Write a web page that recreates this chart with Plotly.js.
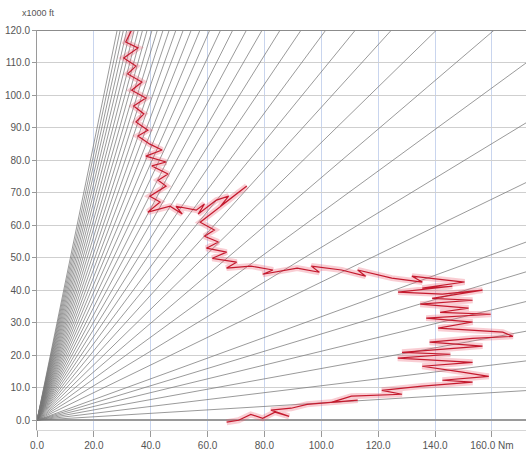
<!DOCTYPE html>
<html>
<head>
<meta charset="utf-8">
<script src="https://cdn.plot.ly/plotly-3.0.1.min.js"></script>
<style>
  html, body { margin: 0; padding: 0; background: #ffffff; }
  #chart { width: 526px; height: 457px; }
</style>
</head>
<body>
<div id="chart"></div>
<script>
// Reference flight-path angles (degrees) drawn as rays from the origin
var pathAnglesDeg = [0.5, 1, 1.5, 2, 2.5, 3, 4, 5, 6, 7, 8, 9, 10, 11, 12, 13, 14, 15, 16, 17,
  18, 19, 20, 21, 22, 23, 24, 25, 26, 27, 28, 29, 30, 31, 32, 33, 34, 35];
var FT_PER_NM = 6076.12;

// Recorded track: distance (Nm) and altitude (x1000 ft)
var trackDistNm = [33.3, 31.2, 35.5, 30.5, 34.8, 31.9, 36.9, 33.3, 38.3, 34.0, 37.6, 34.8, 39.0, 35.5,
  39.7, 44.0, 38.3, 45.4, 40.4, 46.1, 42.6, 45.4,
  39.7, 43.3, 39.0, 46.8, 51.1, 48.9, 56.0, 58.9, 56.7, 63.1, 67.4, 64.5, 73.8, 61.0,
  57.4, 62.4, 58.9, 63.8, 59.6, 66.7, 61.7, 70.2, 66.7,
  75.2, 83.0, 79.4, 91.5, 99.3, 96.5, 107.1, 115.6, 112.8, 124.8, 135.5, 131.9, 144.0, 150.4,
  135.5, 146.1, 127.0, 142.6, 156.7, 139.0, 153.2,
  134.8, 151.8, 141.8, 159.6, 136.9, 153.2,
  141.1, 163.8, 167.4, 153.2, 138.1, 156.7,
  128.4, 145.4, 126.9, 153.2, 135.5,
  149.6, 158.9, 142.6, 153.2,
  135.5, 121.3, 128.4, 110.6,
  103.5, 112.8, 95.0, 89.4, 82.3,
  88.7, 83.7, 79.4, 75.2, 70.9, 66.7];
var trackAltKft = [120.0, 116.3, 114.5, 111.4, 108.9, 106.5, 104.0, 101.5, 99.1, 96.6, 94.2, 91.7, 89.2, 87.4,
  84.9, 83.1, 81.2, 79.4, 78.2, 75.7, 73.8, 72.0,
  68.9, 67.1, 64.0, 65.8, 63.4, 65.8, 64.6, 66.5, 63.4, 67.7, 68.9, 65.8, 72.0, 63.4,
  60.9, 58.5, 56.6, 54.8, 52.9, 51.7, 49.8, 48.6, 46.8,
  47.4, 46.2, 44.9, 46.8, 45.5, 47.4, 46.2, 44.3, 46.2, 43.7, 42.5, 44.3, 43.1, 42.5,
  40.6, 41.2, 39.4, 38.8, 40.0, 37.5, 36.9,
  35.7, 34.5, 33.2, 32.6, 31.4, 30.2,
  28.3, 27.1, 25.8, 25.2, 24.0, 22.8,
  20.9, 20.3, 19.1, 17.8, 16.6,
  14.8, 13.5, 12.3, 11.7,
  10.5, 9.2, 8.0, 7.4,
  5.5, 6.2, 4.9, 3.7, 3.1,
  1.2, 2.5, 0.6, 1.8, 0.0, -0.6];

var xTickVals = [0, 20, 40, 60, 80, 100, 120, 140, 160];
var xTickText = ['0.0', '20.0', '40.0', '60.0', '80.0', '100.0', '120.0', '140.0', '160.0 Nm'];
var yTickVals = [0, 10, 20, 30, 40, 50, 60, 70, 80, 90, 100, 110, 120];

// Build all rays as one trace separated by gaps
var rayX = [], rayY = [];
var reach = 400;
pathAnglesDeg.forEach(function (a) {
  var slope = Math.tan(a * Math.PI / 180) * FT_PER_NM / 1000;
  rayX.push(0, reach, null);
  rayY.push(0, reach * slope, null);
});

var tickFont = { family: 'Liberation Sans Narrow, Liberation Sans, Arial, sans-serif', size: 10, color: '#555' };

var traces = [
  {
    x: rayX, y: rayY, mode: 'lines', type: 'scatter', hoverinfo: 'skip',
    line: { color: 'rgba(120,120,120,0.75)', width: 1 }
  },
  {
    x: trackDistNm, y: trackAltKft, mode: 'lines', type: 'scatter', hoverinfo: 'skip',
    line: { color: 'rgba(235,90,110,0.3)', width: 6 }
  },
  {
    x: trackDistNm, y: trackAltKft, mode: 'lines', type: 'scatter', hoverinfo: 'skip',
    line: { color: '#c41a2e', width: 1.2 }
  }
];

var layout = {
  width: 526, height: 457,
  margin: { l: 37, r: 0, t: 30, b: 27 },
  paper_bgcolor: '#ffffff', plot_bgcolor: '#ffffff',
  showlegend: false,
  xaxis: {
    range: [0, 172], tickvals: xTickVals, ticktext: xTickText,
    ticks: 'outside', ticklen: 6, tickcolor: '#999', tickfont: tickFont,
    showgrid: true, gridcolor: '#c9d5ee', gridwidth: 1,
    zeroline: false, showline: true, linecolor: '#d6d6d6', linewidth: 1
  },
  yaxis: {
    range: [-3, 120], tickvals: yTickVals, tickformat: '.1f',
    ticks: 'outside', ticklen: 4, tickcolor: '#999', tickfont: tickFont,
    showgrid: true, gridcolor: '#cfcfcf', gridwidth: 1,
    zeroline: true, zerolinecolor: '#9a9a9a', zerolinewidth: 2,
    showline: true, linecolor: '#9a9a9a', linewidth: 1
  },
  shapes: [
    { type: 'line', xref: 'paper', yref: 'y', x0: 0, x1: 1, y0: 120, y1: 120,
      line: { color: '#8c8c8c', width: 2 } }
  ],
  annotations: [
    { text: 'x1000 ft', xref: 'paper', yref: 'paper', x: -0.035, y: 1.025,
      xanchor: 'left', yanchor: 'bottom', showarrow: false,
      font: { family: 'Liberation Sans Narrow, Liberation Sans, Arial, sans-serif', size: 9, color: '#555' } }
  ]
};

Plotly.newPlot('chart', traces, layout, { staticPlot: true, displayModeBar: false });
</script>
</body>
</html>
